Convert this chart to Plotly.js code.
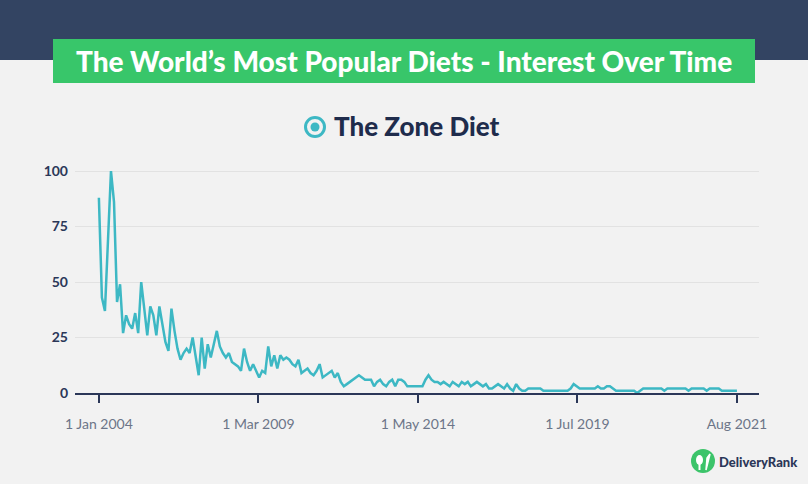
<!DOCTYPE html>
<html>
<head>
<meta charset="utf-8">
<script src="https://cdn.plot.ly/plotly-3.0.1.min.js"></script>
<style>
  html, body { margin: 0; padding: 0; background: #f2f2f2; }
  #chart { width: 808px; height: 484px; }
</style>
</head>
<body>
<div id="chart"></div>
<script>
// Monthly search interest, Jan 2004 – Aug 2021
const seriesName = 'The Zone Diet';
const values = [
  88, 43, 37, 68, 100, 86, 41, 49, 27, 35,
  31, 29, 36, 27, 50, 38, 26, 39, 35, 26,
  39, 31, 23, 19, 38, 28, 20, 15, 18, 20,
  18, 25, 16, 8, 25, 11, 22, 16, 22, 28,
  21, 18, 16, 18, 14, 13, 12, 10, 20, 14,
  10, 13, 10, 7, 10, 9, 21, 12, 17, 11,
  17, 15, 16, 15, 13, 12, 15, 9, 10, 11,
  9, 8, 10, 13, 7, 8, 9, 10, 7, 9,
  5, 3, 4, 5, 6, 7, 8, 7, 6, 6,
  6, 3, 5, 6, 4, 3, 5, 6, 3, 6,
  6, 5, 3, 3, 3, 3, 3, 3, 6, 8,
  6, 5, 5, 4, 5, 4, 3, 5, 4, 3,
  5, 4, 5, 3, 4, 5, 4, 3, 4, 2,
  2, 3, 4, 3, 2, 4, 2, 1, 4, 2,
  1, 1, 2, 2, 2, 2, 2, 1, 1, 1,
  1, 1, 1, 1, 1, 1, 2, 4, 3, 2,
  2, 2, 2, 2, 2, 3, 2, 2, 3, 3,
  2, 1, 1, 1, 1, 1, 1, 1, 0, 1,
  2, 2, 2, 2, 2, 2, 2, 1, 2, 2,
  2, 2, 2, 2, 2, 1, 2, 2, 2, 2,
  2, 1, 2, 2, 2, 2, 1, 1, 1, 1,
  1, 1
];
const xTickLabels = ['1 Jan 2004', '1 Mar 2009', '1 May 2014', '1 Jul 2019', 'Aug 2021'];
const yTicks = [0, 25, 50, 75, 100];
const chartTitle = 'The World\u2019s Most Popular Diets - Interest Over Time';
const brandName = 'DeliveryRank';

const idx = values.map((v, i) => i);
const last = values.length - 1;
const xTickVals = xTickLabels.map((t, i) => i * last / (xTickLabels.length - 1));

const teal = '#3db8c4';
const navy = '#2b3758';

// plot area in pixels: left 75, right 759, top 160, bottom 393
const L = 75, R = 759, T = 160, B = 393;
const px = x => (x - L) / (R - L);
const py = y => (B - y) / (B - T);

const traces = [
  {
    x: idx, y: values, type: 'scatter', mode: 'lines',
    line: { color: teal, width: 2.5 },
    name: seriesName, showlegend: false, hoverinfo: 'y'
  },
  {
    // legend entry only; its icon is drawn as a larger ring below
    x: [null], y: [null], type: 'scatter', mode: 'markers',
    marker: { symbol: 'circle', size: 16, color: 'rgba(0,0,0,0)' },
    name: seriesName, showlegend: true
  }
];

const layout = {
  width: 808, height: 484,
  paper_bgcolor: '#f2f2f2', plot_bgcolor: '#f2f2f2',
  margin: { l: L, r: 808 - R, t: T, b: 484 - B, pad: 0 },
  font: { family: 'Lato, sans-serif' },
  showlegend: true,
  legend: {
    orientation: 'h', x: px(294), xanchor: 'left', y: py(102), yanchor: 'top',
    bgcolor: 'rgba(0,0,0,0)',
    font: { size: 26, color: '#1f2c4c', family: 'Lato, sans-serif', weight: 900 }
  },
  xaxis: {
    range: [-7.9, last + 7.3],
    tickvals: xTickVals, ticktext: xTickLabels,
    showgrid: false, zeroline: false,
    showline: true, linecolor: navy, linewidth: 2,
    ticks: 'outside', ticklen: 8, tickwidth: 2, tickcolor: navy,
    ticklabelstandoff: 9,
    tickfont: { size: 14, color: '#6c7588', family: 'Lato, sans-serif' }
  },
  yaxis: {
    range: [0, 105],
    tickvals: yTicks,
    showgrid: true, gridcolor: '#e2e2e2', gridwidth: 1,
    zeroline: false, showline: false, ticks: '',
    ticklabelstandoff: 6,
    tickfont: { size: 14, color: navy, family: 'Lato, sans-serif', weight: 'bold' }
  },
  shapes: [
    { type: 'rect', xref: 'paper', yref: 'paper', layer: 'below',
      x0: px(-10), x1: px(820), y0: py(60), y1: py(-10),
      fillcolor: '#334462', line: { width: 0 } },
    { type: 'rect', xref: 'paper', yref: 'paper', layer: 'below',
      x0: px(53), x1: px(755), y0: py(83), y1: py(39),
      fillcolor: '#38c66a', line: { width: 0 } },
    // legend ring icon
    { type: 'circle', xref: 'paper', yref: 'paper', layer: 'above',
      x0: px(305.5), x1: px(324.5), y0: py(136.5), y1: py(117.5),
      fillcolor: 'rgba(0,0,0,0)', line: { color: teal, width: 3 } },
    { type: 'circle', xref: 'paper', yref: 'paper', layer: 'above',
      x0: px(310.5), x1: px(319.5), y0: py(131.5), y1: py(122.5),
      fillcolor: teal, line: { width: 0 } },
    // brand logo
    { type: 'circle', xref: 'paper', yref: 'paper', layer: 'above',
      x0: px(691), x1: px(715), y0: py(473), y1: py(449),
      fillcolor: '#3cc46a', line: { width: 0 } },
    { type: 'circle', xref: 'paper', yref: 'paper', layer: 'above',
      x0: px(696), x1: px(703), y0: py(465), y1: py(455),
      fillcolor: '#ffffff', line: { width: 0 } },
    { type: 'line', xref: 'paper', yref: 'paper', layer: 'above',
      x0: px(699.5), x1: px(699.5), y0: py(470), y1: py(463),
      line: { color: '#ffffff', width: 2 } },
    { type: 'path', xref: 'paper', yref: 'paper', layer: 'above',
      path: 'M ' + px(706) + ' ' + py(470) + ' L ' + px(707) + ' ' + py(458) +
            ' L ' + px(710) + ' ' + py(454) + ' L ' + px(708) + ' ' + py(462) + ' Z',
      fillcolor: '#ffffff', line: { color: '#ffffff', width: 1.5 } }
  ],
  annotations: [
    { xref: 'paper', yref: 'paper', x: px(404), y: py(61), xanchor: 'center', yanchor: 'middle',
      text: chartTitle, showarrow: false,
      font: { size: 28, color: '#ffffff', family: 'Lato, sans-serif', weight: 900 } },
    { xref: 'paper', yref: 'paper', x: px(717), y: py(462), xanchor: 'left', yanchor: 'middle',
      text: brandName, showarrow: false,
      font: { size: 13, color: '#2b3758', family: 'Lato, sans-serif', weight: 900 } }
  ]
};

Plotly.newPlot('chart', traces, layout, { displayModeBar: false, staticPlot: true });
</script>
</body>
</html>
